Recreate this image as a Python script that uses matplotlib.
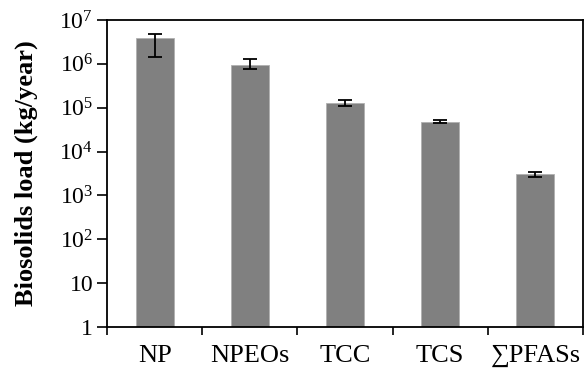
import matplotlib
matplotlib.use("Agg")
import matplotlib.pyplot as plt
import numpy as np
from matplotlib.ticker import FixedLocator, NullLocator

# data
categories = ["NP", "NPEOs", "TCC", "TCS", "\u2211PFASs"]
loads      = [3.9e6, 9.4e5, 1.3e5, 4.8e4, 3.1e3]
err_low    = [2.5e6, 1.9e5, 1.9e4, 3.5e3, 4.0e2]
err_high   = [0.9e6, 3.4e5, 2.0e4, 3.5e3, 4.0e2]
ytick_vals = [1, 10, 1e2, 1e3, 1e4, 1e5, 1e6, 1e7]
ytick_lbls = ["1", "10", r"$\mathregular{10^{2}}$", r"$\mathregular{10^{3}}$",
              r"$\mathregular{10^{4}}$", r"$\mathregular{10^{5}}$",
              r"$\mathregular{10^{6}}$", r"$\mathregular{10^{7}}$"]

plt.rcParams["font.family"] = ["Liberation Serif", "DejaVu Serif"]
plt.rcParams["mathtext.fontset"] = "custom"
plt.rcParams["mathtext.rm"] = "Liberation Serif"

fig = plt.figure(figsize=(5.86, 3.81), dpi=100)
ax = fig.add_axes([0.1826, 0.1417, 0.8123, 0.8058])

x = np.arange(len(categories))
ax.bar(x, loads, width=0.40, color="#808080", edgecolor="#b0b0b0", linewidth=0.6,
       zorder=2)
ax.errorbar(x, loads, yerr=[err_low, err_high], fmt="none", ecolor="black",
            elinewidth=1.3, capsize=5, capthick=1.3, zorder=3)

ax.set_yscale("log")
ax.set_ylim(1, 1e7)
ax.set_xlim(-0.5, len(categories) - 0.5)

ax.yaxis.set_major_locator(FixedLocator(ytick_vals))
ax.yaxis.set_minor_locator(NullLocator())
ax.set_yticklabels(ytick_lbls, fontsize=17)
ax.tick_params(axis="y", direction="out", length=7, width=1.2, pad=3)

ax.set_xticks(np.arange(len(categories) + 1) - 0.5)
ax.set_xticklabels([])
ax.set_xticks(x, minor=True)
ax.set_xticklabels(categories, minor=True, fontsize=19)
ax.tick_params(axis="x", which="major", direction="out", length=6, width=1.2)
ax.tick_params(axis="x", which="minor", length=0, pad=13)

ax.set_ylabel("Biosolids load (kg/year)", fontsize=19, fontweight="bold", labelpad=15)

for s in ax.spines.values():
    s.set_linewidth(1.3)

fig.savefig("out.png", dpi=100)
